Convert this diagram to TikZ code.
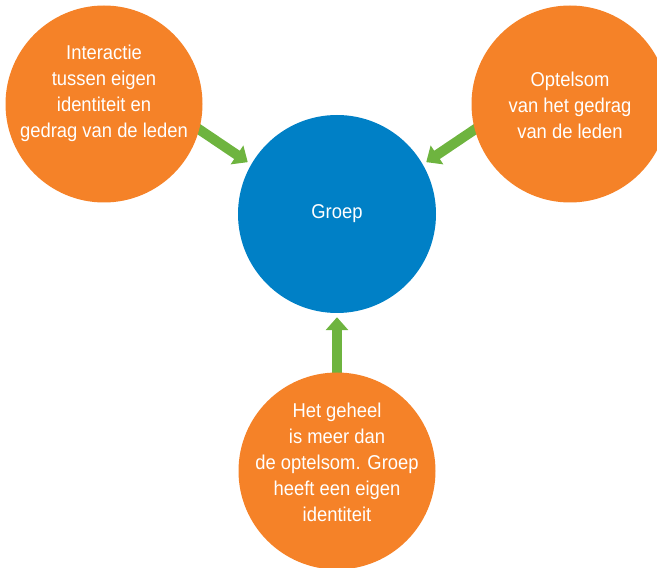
\documentclass[tikz,border=0pt]{standalone}
\usepackage{fontspec}
\setmainfont{Liberation Sans}[FakeStretch=0.92]
\usetikzlibrary{arrows.meta,backgrounds}
\definecolor{bubbleorange}{RGB}{245,130,40}
\definecolor{groepblue}{RGB}{0,128,198}
\definecolor{arrowgreen}{RGB}{110,180,63}

\begin{document}
\begin{tikzpicture}[
    x=1pt, y=1pt,
    node distance=233pt,
    bubble/.style={circle, fill=bubbleorange, minimum size=197pt, inner sep=0pt},
    bubbletext/.style={text=white, align=center, font=\fontsize{20}{26}\selectfont},
    core/.style={circle, fill=groepblue, text=white, minimum size=198pt, inner sep=0pt, font=\fontsize{20}{26}\selectfont},
    arrow/.style={-{Triangle[width=22pt,length=13pt]}, line width=10pt, arrowgreen, shorten >=4pt, shorten <=-6pt}
]
    \useasboundingbox (0,0) rectangle (657,568);

    % Group in the middle
    \node[core] (groep) at (337,354) {Groep};

    % Surrounding views
    \node[bubble, left of=groep, yshift=110pt,
        label={[bubbletext, yshift=11pt]center:{Interactie\\tussen eigen\\identiteit en\\gedrag van de leden}}] (interactie) {};
    \node[bubble, right of=groep, yshift=110pt,
        label={[bubbletext, yshift=-1pt]center:{Optelsom\\van het gedrag\\van de leden}}] (optelsom) {};
    \node[bubble, below of=groep, yshift=-24pt,
        label={[bubbletext, yshift=9pt]center:{Het geheel\\is meer dan\\de optelsom. Groep\\heeft een eigen\\identiteit}}] (geheel) {};

    % Connections
    \begin{scope}[on background layer]
        \draw[arrow] (interactie.-15) -- (groep.150);
        \draw[arrow] (optelsom.195) -- (groep.30);
        \draw[arrow] (geheel.north) -- (groep.south);
    \end{scope}
\end{tikzpicture}
\end{document}
